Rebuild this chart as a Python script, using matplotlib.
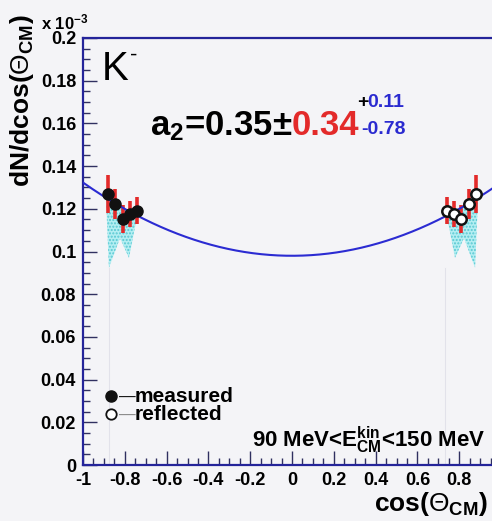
import numpy as np
import matplotlib
matplotlib.use("Agg")
import matplotlib.pyplot as plt
from matplotlib.ticker import MultipleLocator

plt.rcParams['font.family'] = ['Liberation Sans', 'DejaVu Sans']
plt.rcParams['mathtext.fontset'] = 'custom'
plt.rcParams['mathtext.rm'] = 'Liberation Sans'
plt.rcParams['mathtext.bf'] = 'Liberation Sans:bold'
plt.rcParams['mathtext.it'] = 'Liberation Sans:italic'

# measured angular distribution (units of 1e-3)
cos_measured = [-0.88, -0.845, -0.81, -0.775, -0.74]
dn_measured = [0.1268, 0.1222, 0.1152, 0.1175, 0.1192]
err_measured = [0.0088, 0.0070, 0.0066, 0.0062, 0.0064]

# reflected points (mirror of the measured ones)
cos_reflected = [0.74, 0.775, 0.81, 0.845, 0.88]
dn_reflected = [0.1192, 0.1175, 0.1152, 0.1222, 0.1268]
err_reflected = [0.0064, 0.0062, 0.0066, 0.0070, 0.0088]

# systematic band outline on the measured side
band_x = [-0.89, -0.876, -0.823, -0.78, -0.751, -0.73]
band_low = [0.125, 0.0923, 0.1063, 0.0970, 0.1116, 0.119]
band_high = [0.1300, 0.1280, 0.1222, 0.1180, 0.1200, 0.1200]

# fit: A * (1 + a2 * cos^2)
fit_A = 0.098
fit_a2 = 0.35

xticks = [-1, -0.8, -0.6, -0.4, -0.2, 0, 0.2, 0.4, 0.6, 0.8, 1]
yticks = [0, 0.02, 0.04, 0.06, 0.08, 0.1, 0.12, 0.14, 0.16, 0.18, 0.2]

W, H = 492, 521
bg = '#f4f4f7'
frame = '#24249a'
curve = '#2b2bd2'
red = '#e32a2a'
blue = '#2a2ad0'

fig = plt.figure(figsize=(W / 100, H / 100), dpi=100, facecolor=bg)
ax = fig.add_axes([83 / W, 56 / H, 418 / W, 427 / H])
ax.set_facecolor(bg)
ax.set_xlim(-1, 1)
ax.set_ylim(0, 0.2)

for s in ['left', 'bottom', 'top']:
    ax.spines[s].set_color(frame)
    ax.spines[s].set_linewidth(1.6)
ax.spines['right'].set_visible(False)

ax.xaxis.set_minor_locator(MultipleLocator(0.05))
ax.yaxis.set_minor_locator(MultipleLocator(0.005))
ax.set_xticks(xticks)
ax.set_xticklabels([('%g' % t) if t < 1 else '' for t in xticks])
ax.set_yticks(yticks)
ax.set_yticklabels(['%g' % t for t in yticks])
ax.tick_params(which='both', direction='in', top=False, right=False,
               color='#303060', width=1)
ax.tick_params(which='major', length=10, labelsize=13, pad=5)
ax.tick_params(which='minor', length=5)
for lab in ax.get_xticklabels() + ax.get_yticklabels():
    lab.set_fontweight('bold')

# faint guide lines
ax.plot([band_x[1], band_x[1]], [0, min(band_low)], color='#e2e2ea', lw=0.8, zorder=1)
ax.plot([-band_x[-1], -band_x[-1]], [0, min(band_low)], color='#e2e2ea', lw=0.8, zorder=1)

# systematic bands (measured side and its mirror)
for xs, lo, hi in [(band_x, band_low, band_high),
                   ([-v for v in band_x[::-1]], band_low[::-1], band_high[::-1])]:
    ax.fill_between(xs, lo, hi, facecolor='#b4eef2', edgecolor='#58c8d2',
                    hatch='.....', linewidth=0, zorder=2)

# fit curve
xf = np.linspace(-1, 1, 400)
ax.plot(xf, fit_A * (1 + fit_a2 * xf ** 2), color=curve, lw=1.5, zorder=4)

# error bars
ax.errorbar(cos_measured, dn_measured, yerr=err_measured, fmt='none',
            ecolor=red, elinewidth=2.6, capsize=0, zorder=3)
ax.errorbar(cos_reflected, dn_reflected, yerr=err_reflected, fmt='none',
            ecolor=red, elinewidth=2.6, capsize=0, zorder=3)
ax.plot(cos_measured, dn_measured, 'o', ms=8, color='#111111', zorder=5)
ax.plot(cos_reflected, dn_reflected, 'o', ms=7.5, mfc='white', mec='#111111',
        mew=1.8, zorder=5)


def px(x, y):
    return x / W, 1 - y / H


# multiplier
fig.text(*px(41, 29), r'x 10$^{\mathbf{-3}}$', fontsize=12, fontweight='bold',
         ha='left', va='baseline')

# axis titles
fig.text(*px(22, 14), r'dN/dcos($\Theta_{\mathbf{CM}}$)', rotation=90, fontsize=19,
         fontweight='bold', ha='center', va='top')
fig.text(*px(374, 511), r'cos($\Theta_{\mathbf{CM}}$)', fontsize=19,
         fontweight='bold', ha='left', va='baseline')

# particle label
fig.text(*px(102, 80), 'K', fontsize=29, ha='left', va='baseline')
fig.text(*px(130, 61), '-', fontsize=16, ha='left', va='baseline')

# anisotropy result
fig.text(*px(150, 135), r'a$_{\mathbf{2}}$=0.35±', fontsize=25, fontweight='bold',
         ha='left', va='baseline')
fig.text(*px(292, 135), '0.34', fontsize=25, fontweight='bold', color=red,
         ha='left', va='baseline')
fig.text(*px(357, 107), '+', fontsize=14, fontweight='bold', color='black',
         ha='left', va='baseline')
fig.text(*px(367, 107), '0.11', fontsize=14, fontweight='bold', color=blue,
         ha='left', va='baseline')
fig.text(*px(361, 134), '-0.78', fontsize=14, fontweight='bold', color=blue,
         ha='left', va='baseline')

# legend
ax.plot([0.067], [0.1616], 'o', ms=8, color='#111111', transform=ax.transAxes,
        clip_on=False)
ax.plot([0.067], [0.1194], 'o', ms=7.5, mfc='white', mec='#111111', mew=1.3,
        transform=ax.transAxes, clip_on=False)
fig.text(*px(119, 402), '—', fontsize=12, color='#111111', ha='left', va='baseline')
fig.text(*px(119, 420), '—', fontsize=12, color='#888888', ha='left', va='baseline')
fig.text(*px(135, 402), 'measured', fontsize=15, fontweight='bold', ha='left', va='baseline')
fig.text(*px(135, 420), 'reflected', fontsize=15, fontweight='bold', ha='left', va='baseline')

# energy window
fig.text(*px(252, 447), r'90 MeV<E$^{\mathbf{kin}}_{\mathbf{CM}}$<150 MeV', fontsize=16,
         fontweight='bold', ha='left', va='baseline')

fig.savefig('out.png', dpi=100, facecolor=bg)
